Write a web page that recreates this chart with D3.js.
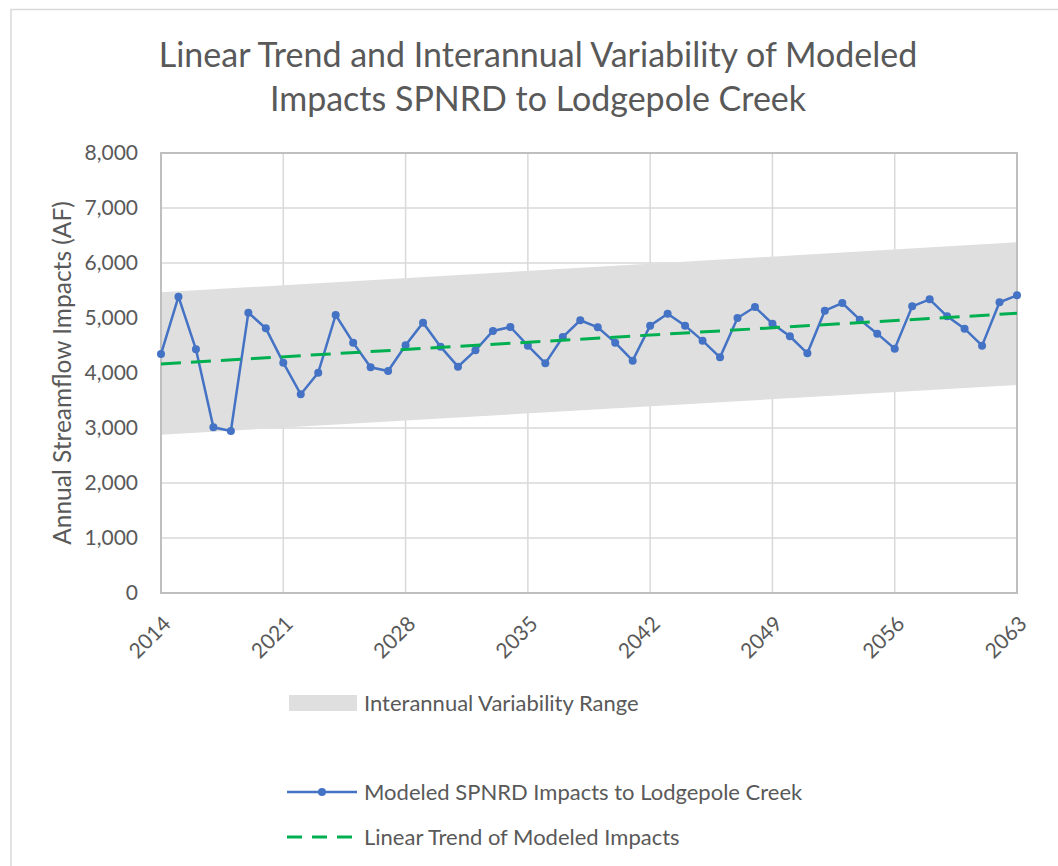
<!DOCTYPE html>
<html>
<head>
<meta charset="utf-8">
<script src="https://cdn.jsdelivr.net/npm/d3@7"></script>
<style>
  body { margin: 0; background: #fff; }
  text { font-family: Lato, "Open Sans", sans-serif; fill: #595959; }
</style>
</head>
<body>
<div id="chart"></div>
<script>
// data
var years = d3.range(2014, 2064);
var impacts = [4345, 5388, 4430, 3012, 2945, 5097, 4812, 4188, 3612, 4006,
               5055, 4552, 4103, 4036, 4503, 4915, 4479, 4115, 4412, 4764,
               4836, 4497, 4176, 4655, 4958, 4830, 4552, 4224, 4861, 5079,
               4861, 4588, 4285, 5000, 5200, 4897, 4667, 4358, 5133, 5273,
               4970, 4715, 4442, 5212, 5339, 5030, 4806, 4497, 5285, 5412];
// trend and band ends (first and last year)
var trendYears = [2014, 2063];
var trendValues = [4164, 5085];
var bandLow = [2879, 3782];
var bandHigh = [5467, 6376];
var yTicks = [0, 1000, 2000, 3000, 4000, 5000, 6000, 7000, 8000];
var xTicks = [2014, 2021, 2028, 2035, 2042, 2049, 2056, 2063];

var titleLines = ["Linear Trend and Interannual Variability of Modeled",
                  "Impacts SPNRD to Lodgepole Creek"];
var legendNames = ["Interannual Variability Range",
                   "Modeled SPNRD Impacts to Lodgepole Creek",
                   "Linear Trend of Modeled Impacts"];

var W = 1058, H = 866;
var pLeft = 161, pRight = 1017, pTop = 153, pBottom = 593;

var svg = d3.select("#chart").append("svg")
    .attr("width", W).attr("height", H);

// outer chart border
svg.append("rect")
    .attr("x", 11).attr("y", 9.5)
    .attr("width", W + 20).attr("height", H + 20)
    .attr("fill", "none").attr("stroke", "#d9d9d9").attr("stroke-width", 1.5);

var x = d3.scaleLinear().domain([2014, 2063]).range([pLeft, pRight]);
var y = d3.scaleLinear().domain([0, 8000]).range([pBottom, pTop]);

// gridlines
svg.append("g").selectAll("line")
    .data(yTicks)
  .enter().append("line")
    .attr("x1", pLeft).attr("x2", pRight)
    .attr("y1", function(d) { return y(d); })
    .attr("y2", function(d) { return y(d); })
    .attr("stroke", "#d9d9d9").attr("stroke-width", 1.5);

svg.append("g").selectAll("line")
    .data(xTicks)
  .enter().append("line")
    .attr("y1", pTop).attr("y2", pBottom)
    .attr("x1", function(d) { return x(d); })
    .attr("x2", function(d) { return x(d); })
    .attr("stroke", "#d9d9d9").attr("stroke-width", 1.5);

// variability band
var bandData = trendYears.map(function(t, i) { return { yr: t, lo: bandLow[i], hi: bandHigh[i] }; });
svg.append("path")
    .datum(bandData)
    .attr("fill", "#dfdfdf")
    .attr("d", d3.area()
        .x(function(d) { return x(d.yr); })
        .y0(function(d) { return y(d.lo); })
        .y1(function(d) { return y(d.hi); }));

// plot frame
svg.append("rect")
    .attr("x", pLeft).attr("y", pTop)
    .attr("width", pRight - pLeft).attr("height", pBottom - pTop)
    .attr("fill", "none").attr("stroke", "#bfbfbf").attr("stroke-width", 2);

// modeled impacts line
var pts = years.map(function(yr, i) { return { yr: yr, v: impacts[i] }; });
svg.append("path")
    .datum(pts)
    .attr("fill", "none")
    .attr("stroke", "#4472c4").attr("stroke-width", 2.5)
    .attr("d", d3.line()
        .x(function(d) { return x(d.yr); })
        .y(function(d) { return y(d.v); }));

svg.append("g").selectAll("circle")
    .data(pts)
  .enter().append("circle")
    .attr("cx", function(d) { return x(d.yr); })
    .attr("cy", function(d) { return y(d.v); })
    .attr("r", 4)
    .attr("fill", "#4472c4");

// trend line
var trendData = trendYears.map(function(t, i) { return { yr: t, v: trendValues[i] }; });
svg.append("path")
    .datum(trendData)
    .attr("fill", "none")
    .attr("stroke", "#00b050").attr("stroke-width", 3)
    .attr("stroke-dasharray", "20,10")
    .attr("d", d3.line()
        .x(function(d) { return x(d.yr); })
        .y(function(d) { return y(d.v); }));

// y axis labels
var fmt = d3.format(",");
svg.append("g").selectAll("text")
    .data(yTicks)
  .enter().append("text")
    .attr("x", 138)
    .attr("y", function(d) { return y(d); })
    .attr("dy", "0.35em")
    .attr("text-anchor", "end")
    .style("font-size", "21px")
    .text(function(d) { return fmt(d); });

// x axis labels, rotated
svg.append("g").selectAll("text")
    .data(xTicks)
  .enter().append("text")
    .attr("transform", function(d) { return "translate(" + (x(d) + 6) + ",620) rotate(-45)"; })
    .attr("dy", "0.35em")
    .attr("text-anchor", "end")
    .style("font-size", "21px")
    .text(function(d) { return d; });

// y axis title
svg.append("text")
    .attr("transform", "translate(62,373) rotate(-90)")
    .attr("dy", "0.35em")
    .attr("text-anchor", "middle")
    .style("font-size", "24.5px")
    .text("Annual Streamflow Impacts (AF)");

// title
svg.append("g").selectAll("text")
    .data(titleLines)
  .enter().append("text")
    .attr("x", 538)
    .attr("y", function(d, i) { return 67 + i * 44; })
    .attr("text-anchor", "middle")
    .style("font-size", "34px")
    .text(function(d) { return d; });

// legend
var lg = svg.append("g");
lg.append("rect")
    .attr("x", 289).attr("y", 695).attr("width", 68).attr("height", 16)
    .attr("fill", "#dfdfdf");
lg.append("line")
    .attr("x1", 287).attr("x2", 357).attr("y1", 792).attr("y2", 792)
    .attr("stroke", "#4472c4").attr("stroke-width", 2.5);
lg.append("circle")
    .attr("cx", 322).attr("cy", 792).attr("r", 4).attr("fill", "#4472c4");
lg.append("line")
    .attr("x1", 287).attr("x2", 357).attr("y1", 837).attr("y2", 837)
    .attr("stroke", "#00b050").attr("stroke-width", 3)
    .attr("stroke-dasharray", "15,10");

lg.selectAll("text")
    .data(legendNames)
  .enter().append("text")
    .attr("x", 364)
    .attr("y", function(d, i) { return [703, 792, 837][i]; })
    .attr("dy", "0.35em")
    .style("font-size", "22px")
    .text(function(d) { return d; });
</script>
</body>
</html>
